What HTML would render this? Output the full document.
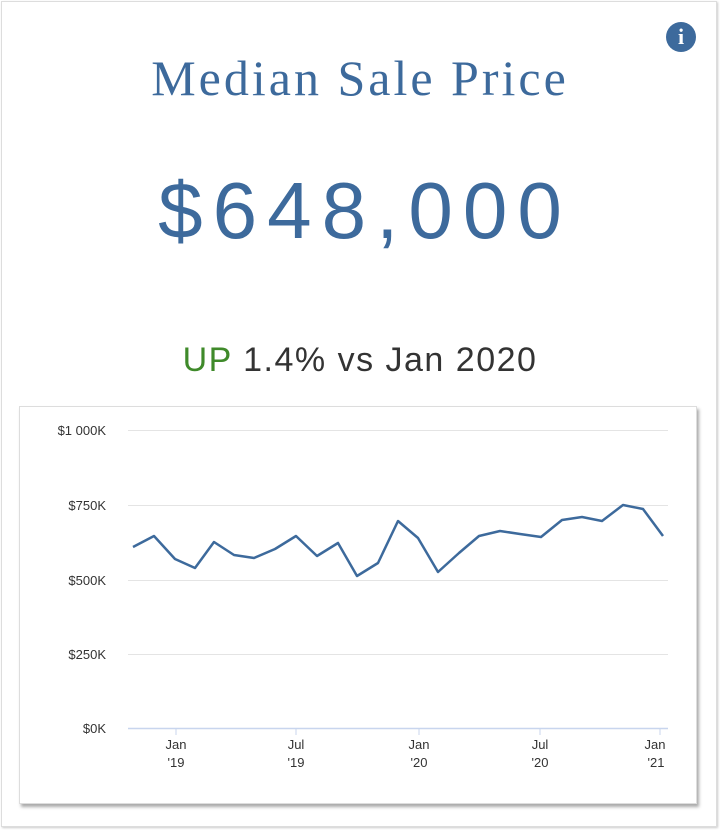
<!DOCTYPE html>
<html><head><style>
body{margin:0;width:720px;height:830px;background:#fff;position:relative;overflow:hidden;font-family:"Liberation Sans",sans-serif}
.card{position:absolute;left:1px;top:1px;width:716px;height:826px;border:1px solid #ddd;box-sizing:border-box;box-shadow:1px 1px 2px #ccc}
.title{position:absolute;top:47px;width:716px;text-align:center;font-family:"Liberation Serif",serif;font-size:50px;letter-spacing:3px;color:#3d6a9c}
.big{position:absolute;top:163px;left:5px;width:716px;text-align:center;font-size:80px;color:#3d6a9c;letter-spacing:10px}
.sub{position:absolute;top:339px;width:716px;text-align:center;font-size:34px;letter-spacing:1.5px;color:#333}
.sub span{color:#3f8a2a}
.chart{position:absolute;left:19px;top:406px;width:676px;height:396px;border:1px solid #ddd;background:#fff;box-shadow:2px 3px 3px #aaa}
.info{position:absolute;left:666px;top:22px;width:30px;height:30px;border-radius:50%;background:#3d6a9c;color:#fff;font:bold 22px "Liberation Serif",serif;text-align:center;line-height:30px}
</style></head><body>
<div class="card">
<div class="title">Median Sale Price</div>
<div class="big">$648,000</div>
<div class="sub"><span>UP</span> 1.4% vs Jan 2020</div>
</div>
<div class="info">i</div>
<div class="chart"></div>
<svg style="position:absolute;left:0;top:0" width="720" height="830" font-family="Liberation Sans, sans-serif" font-size="13" fill="#333">
<g stroke="#e4e4e4" stroke-width="1">
<line x1="128" x2="668" y1="430.5" y2="430.5"/><line x1="128" x2="668" y1="505.5" y2="505.5"/><line x1="128" x2="668" y1="580.5" y2="580.5"/><line x1="128" x2="668" y1="654.5" y2="654.5"/>
</g>
<line x1="128" x2="668" y1="728.5" y2="728.5" stroke="#c8d5ee" stroke-width="1.5"/>
<g stroke="#c8d5ee"><line x1="176" x2="176" y1="728" y2="735"/><line x1="296" x2="296" y1="728" y2="735"/><line x1="419" x2="419" y1="728" y2="735"/><line x1="540" x2="540" y1="728" y2="735"/><line x1="660" x2="660" y1="728" y2="735"/></g>
<g text-anchor="end"><text x="106" y="435">$1 000K</text><text x="106" y="510">$750K</text><text x="106" y="585">$500K</text><text x="106" y="659">$250K</text><text x="106" y="733">$0K</text></g>
<g text-anchor="middle"><text x="176" y="749">Jan</text><text x="176" y="767">'19</text><text x="296" y="749">Jul</text><text x="296" y="767">'19</text><text x="419" y="749">Jan</text><text x="419" y="767">'20</text><text x="540" y="749">Jul</text><text x="540" y="767">'20</text><text x="655" y="749">Jan</text><text x="656" y="767">'21</text></g>
<polyline fill="none" stroke="#3d6a9c" stroke-width="2.5" stroke-linejoin="round" points="133,547 154,536 175,559 195,568 214,542 234,555 254,558 275,549 296,536 317,556 338,543 357,576 378,563 398,521 418,538 438,572 459,553 479,536 500,531 520,534 541,537 562,520 582,517 602,521 623,505 643,509 663,536"/>
</svg>
</body></html>
